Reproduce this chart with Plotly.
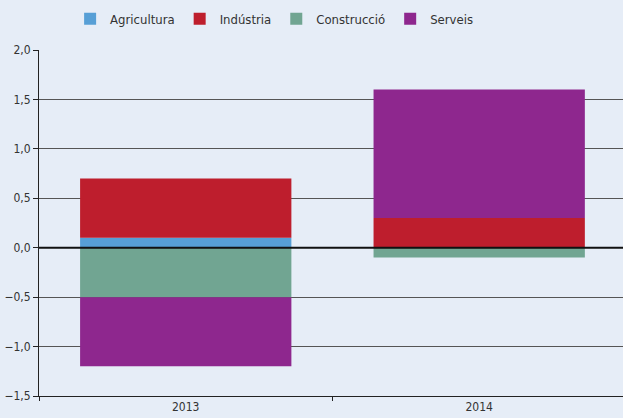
import plotly.graph_objects as go

years = ["2013", "2014"]
agricultura = [0.1, 0.0]
industria = [0.6, 0.3]
construccio = [-0.5, -0.1]
serveis = [-0.7, 1.3]

series = [
    ("Agricultura", agricultura, "#579fd6"),
    ("Indústria", industria, "#be1e2d"),
    ("Construcció", construccio, "#71a592"),
    ("Serveis", serveis, "#8e278e"),
]

font = "DejaVu Sans Condensed, Liberation Sans Narrow, Liberation Sans, sans-serif"

fig = go.Figure()
for name, vals, col in series:
    fig.add_trace(go.Bar(x=years, y=vals, name=name, marker_color=col,
                         marker_line_width=0, width=0.72))

fig.update_layout(
    width=623, height=418,
    barmode="relative",
    separators=",.",
    paper_bgcolor="#e6edf7",
    plot_bgcolor="#e6edf7",
    margin=dict(l=39, r=0, t=50, b=22, autoexpand=False),
    font=dict(family=font, size=12, color="#333333"),
    legend=dict(orientation="h", x=0.44, xanchor="center", xref="container",
                y=0.955, yanchor="middle", yref="container",
                font=dict(size=13, color="#333333"),
                itemwidth=30, traceorder="normal"),
    xaxis=dict(range=[-0.5, 1.49], showgrid=False, showline=True, linecolor="#222222",
               linewidth=1, ticks="outside", tickson="boundaries", ticklen=4,
               tickcolor="#222222", tickfont=dict(size=12), automargin=False),
    yaxis=dict(range=[-1.5, 2.0], dtick=0.5, tickformat=".1f", showgrid=True,
               gridcolor="#555555", gridwidth=1, zeroline=False, showline=True,
               linecolor="#222222", linewidth=1, ticks="outside", ticklen=5,
               tickcolor="#222222", tickfont=dict(size=12), automargin=False),
)

# zero line drawn over the bars
fig.add_shape(type="line", xref="paper", yref="y", x0=0, x1=1, y0=0, y1=0,
              line=dict(color="#111111", width=2), layer="above")

fig.write_html("out.html", config={"displayModeBar": False},
               post_script="document.body.style.margin='0';")
